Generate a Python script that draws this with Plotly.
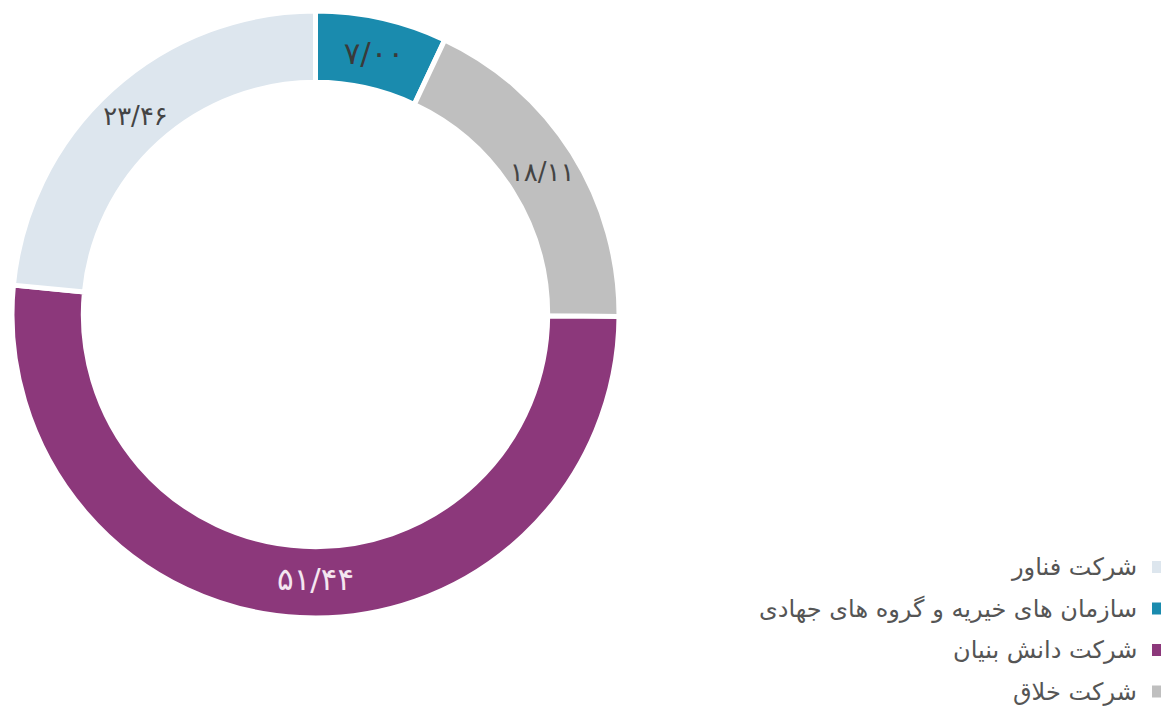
import plotly.graph_objects as go

categories = ["سازمان های خیریه و گروه های جهادی", "شرکت خلاق", "شرکت دانش بنیان", "شرکت فناور"]
values = [7.00, 18.11, 51.44, 23.46]
value_labels = ["۷/۰۰", "۱۸/۱۱", "۵۱/۴۴", "۲۳/۴۶"]
colors = ["#1a8bae", "#bfbfbf", "#8c387b", "#dde6ee"]
text_colors = ["#3a3a3a", "#444444", "#f4e6f0", "#444444"]

legend_order = ["شرکت فناور", "سازمان های خیریه و گروه های جهادی", "شرکت دانش بنیان", "شرکت خلاق"]

# the page body has an 8px margin, so work in figure pixels = page pixels - 8
OFF = 8
W, H = 1169 - OFF, 717 - OFF


def px(x):
    return (x - OFF) / W


def py(y):
    return 1 - (y - OFF) / H


fig = go.Figure()
fig.add_trace(go.Pie(
    labels=categories,
    values=values,
    text=value_labels,
    textinfo="text",
    texttemplate="%{text}",
    textposition="inside",
    insidetextorientation="horizontal",
    textfont=dict(family="DejaVu Sans", size=31, color=text_colors),
    hole=0.765,
    sort=False,
    direction="clockwise",
    rotation=0,
    marker=dict(colors=colors, line=dict(color="white", width=5)),
    domain=dict(x=[px(12), px(619)], y=[py(618), py(11)]),
    showlegend=False,
    hoverinfo="label+value",
))

# custom right-to-left legend (marker on the right side of text)
color_map = dict(zip(categories, colors))
y0 = 567
step = 41.5
for i, name in enumerate(legend_order):
    y = y0 + i * step
    fig.add_annotation(
        x=px(1139), y=py(y), xref="paper", yref="paper",
        text=name, showarrow=False, xanchor="right", yanchor="middle",
        font=dict(family="DejaVu Sans", size=24, color="#555555"),
    )
    fig.add_shape(
        type="rect", xref="paper", yref="paper",
        x0=px(1152), x1=px(1164), y0=py(y + 6), y1=py(y - 6),
        fillcolor=color_map[name], line=dict(width=0),
    )

fig.update_layout(
    width=W, height=H,
    margin=dict(l=0, r=0, t=0, b=0),
    paper_bgcolor="white",
    plot_bgcolor="white",
)

fig.write_html("out.html")
